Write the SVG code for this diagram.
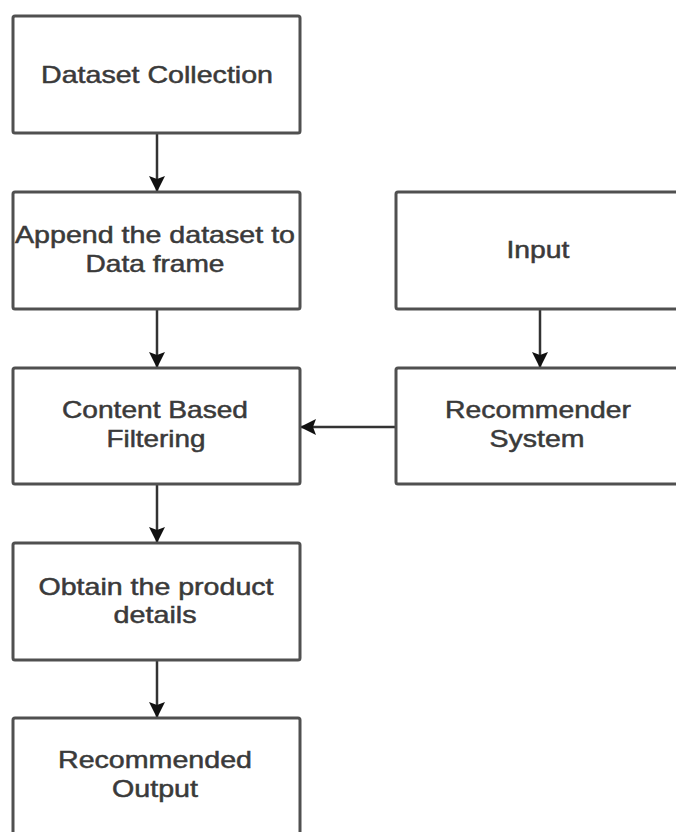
<svg xmlns="http://www.w3.org/2000/svg" width="676" height="832" viewBox="0 0 676 832">
<style>
.box{fill:#ffffff;stroke:#505050;stroke-width:3}
.lbl{font-family:"Liberation Sans",Arial,sans-serif;font-size:24px;fill:#3a3a3a;stroke:#3a3a3a;stroke-width:0.5;text-anchor:middle}
.edge{stroke:#333333;stroke-width:2.5;fill:none}
</style>
<defs>
<marker id="ah" viewBox="0 0 16 16" refX="15" refY="8" markerWidth="16" markerHeight="16" markerUnits="userSpaceOnUse" orient="auto">
<path d="M0,0 L16,8 L0,16 L3,8 Z" fill="#111111"/>
</marker>
</defs>
<rect width="676" height="832" fill="#ffffff"/>
<g id="connectors">
<line class="edge" x1="157" y1="134" x2="157" y2="191" marker-end="url(#ah)"/>
<line class="edge" x1="157" y1="310" x2="157" y2="367" marker-end="url(#ah)"/>
<line class="edge" x1="157" y1="485" x2="157" y2="542" marker-end="url(#ah)"/>
<line class="edge" x1="157" y1="661" x2="157" y2="717" marker-end="url(#ah)"/>
<line class="edge" x1="540" y1="310" x2="540" y2="367" marker-end="url(#ah)"/>
<line class="edge" x1="395" y1="427" x2="301" y2="427" marker-end="url(#ah)"/>
</g>
<g id="node-dataset-collection">
<rect class="box" x="13" y="16" width="287" height="117" rx="2"/>
<text class="lbl" x="157" y="83" textLength="232" lengthAdjust="spacingAndGlyphs">Dataset Collection</text>
</g>
<g id="node-append">
<rect class="box" x="13" y="192" width="287" height="117" rx="2"/>
<text class="lbl" x="155" y="243" textLength="280" lengthAdjust="spacingAndGlyphs">Append the dataset to</text>
<text class="lbl" x="155" y="272" textLength="139" lengthAdjust="spacingAndGlyphs">Data frame</text>
</g>
<g id="node-content-based">
<rect class="box" x="13" y="368" width="287" height="116" rx="2"/>
<text class="lbl" x="155" y="418" textLength="186" lengthAdjust="spacingAndGlyphs">Content Based</text>
<text class="lbl" x="156" y="447" textLength="99" lengthAdjust="spacingAndGlyphs">Filtering</text>
</g>
<g id="node-obtain">
<rect class="box" x="13" y="543" width="287" height="117" rx="2"/>
<text class="lbl" x="156" y="595" textLength="235" lengthAdjust="spacingAndGlyphs">Obtain the product</text>
<text class="lbl" x="155" y="623" textLength="83" lengthAdjust="spacingAndGlyphs">details</text>
</g>
<g id="node-recommended-output">
<rect class="box" x="13" y="718" width="287" height="124" rx="2"/>
<text class="lbl" x="155" y="768" textLength="194" lengthAdjust="spacingAndGlyphs">Recommended</text>
<text class="lbl" x="155" y="797" textLength="86" lengthAdjust="spacingAndGlyphs">Output</text>
</g>
<g id="node-input">
<rect class="box" x="396" y="192" width="290" height="117" rx="2"/>
<text class="lbl" x="538" y="258" textLength="63" lengthAdjust="spacingAndGlyphs">Input</text>
</g>
<g id="node-recommender-system">
<rect class="box" x="396" y="368" width="290" height="116" rx="2"/>
<text class="lbl" x="538" y="418" textLength="186" lengthAdjust="spacingAndGlyphs">Recommender</text>
<text class="lbl" x="537" y="447" textLength="95" lengthAdjust="spacingAndGlyphs">System</text>
</g>
</svg>
